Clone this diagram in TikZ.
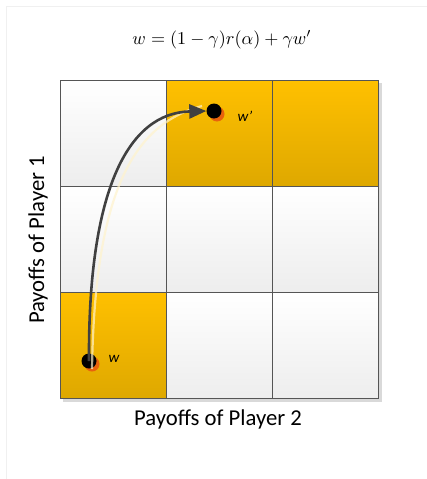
\documentclass[tikz,border=0pt]{standalone}
\usepackage{graphicx}
\usepackage{fontspec}
\setmainfont{Carlito}
\usetikzlibrary{arrows.meta,shadows}
\definecolor{gold}{HTML}{FFC000}
\definecolor{goldd}{HTML}{DEA800}
\definecolor{gridline}{HTML}{555555}
\definecolor{arrowc}{HTML}{404040}
\definecolor{dotsh}{HTML}{E8620C}
\tikzset{
  plaincell/.style={top color=white,bottom color=black!7,draw=gridline,line width=1.2pt},
  goldcell/.style={top color=gold,bottom color=goldd,draw=gridline,line width=1.2pt},
  dotnode/.style={circle,fill=black,minimum size=15pt,inner sep=0pt},
  dotshadow/.style={circle,fill=dotsh,minimum size=15pt,inner sep=0pt},
  lbl/.style={font=\fontsize{15}{16}\selectfont\itshape,inner sep=0pt},
  axis/.style={font=\fontsize{22.7}{24}\selectfont,inner sep=0pt}
}
\begin{document}
\begin{tikzpicture}[x=1pt,y=-1pt]
\useasboundingbox (0,0) rectangle (427,479);
\fill[white] (0,0) rectangle (427,479);
\draw[black!6,line width=1pt] (6.5,479) -- (6.5,6.5) -- (427,6.5);
% formula
\node[inner sep=0pt] (eq) at (222,40) {\resizebox{179pt}{!}{$w=(1-\gamma)r(\alpha)+\gamma w'$}};
% grid shadow
\fill[black!15] (63,83) rectangle (382,402);
% cells
\foreach \c/\r/\s [count=\i] in {0/0/plaincell,1/0/goldcell,2/0/goldcell,0/1/plaincell,1/1/plaincell,2/1/plaincell,0/2/goldcell,1/2/plaincell,2/2/plaincell}{
  \node[\s,minimum size=106pt,inner sep=0pt,anchor=north west] (c\i) at ({60+106*\c},{80+106*\r}) {};
}
% axis labels
\node[axis] (xl) at (218,419) {Payoffs of Player 2};
\node[axis,rotate=90] (yl) at (38,240) {Payoffs of Player 1};
% dots
\node[dotshadow] (ws) at (92,364) {};
\node[dotnode] (w) at (89,361) {};
\node[dotshadow] (wps) at (217,114) {};
\node[dotnode] (wp) at (214,111) {};
\node[lbl] (wl) at (114,359) {w};
\node[lbl] (wpl) at (245,116) {w'};
% arrow highlight
\draw[white!80!gold,line width=2.2pt,opacity=0.7] ([xshift=3pt,yshift=-8pt]w.center) .. controls (95,190) and (134,124) .. ([xshift=-12pt,yshift=5pt]wp.center);
\draw[arrowc,line width=2.6pt,-{Triangle[length=17pt,width=14pt]}] (w.center) .. controls (88,190) and (128,113) .. (wp.west);
\end{tikzpicture}
\end{document}
